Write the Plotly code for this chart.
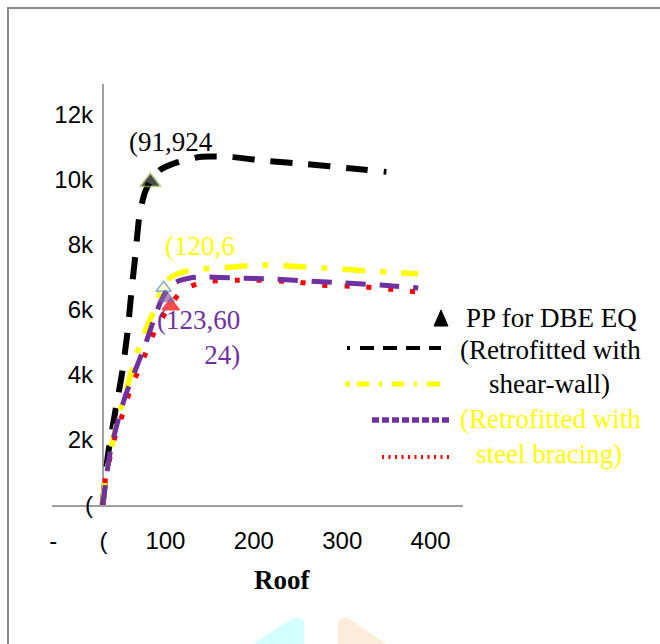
import plotly.graph_objects as go

# ---------------- data ----------------
sw_x = [29, 35, 43, 51, 57, 61, 66, 71, 77, 83, 94, 114, 139, 173, 215, 260, 305, 350]
sw_y = [0, 1540, 2830, 4060, 5290, 6400, 7690, 8990, 9630, 9970, 10310, 10550, 10710, 10710, 10585, 10490, 10370, 10250]

ye_x = [29, 32, 45, 60, 73, 85, 94, 102, 111, 124, 139, 176, 207, 243, 278, 314, 351, 386]
ye_y = [0, 770, 2520, 3940, 5080, 5850, 6520, 6920, 7080, 7200, 7260, 7320, 7385, 7350, 7290, 7230, 7170, 7110]

pu_x = [29, 37, 45, 55, 66, 77, 86, 94, 102, 112, 128, 139, 181, 222, 261, 303, 343, 386]
pu_y = [0, 1540, 2460, 3385, 4150, 4920, 5630, 6215, 6615, 6860, 6985, 7015, 6985, 6955, 6890, 6830, 6770, 6680]

rd_x = [29, 32, 42, 52, 62, 71, 80, 90, 100, 108, 120, 142, 196, 249, 275, 326, 352, 386]
rd_y = [0, 770, 2000, 2830, 3690, 4215, 4830, 5480, 5910, 6245, 6615, 6860, 6920, 6860, 6770, 6710, 6645, 6555]

pp_x = [83, 106, 101, 98]
pp_y = [9940, 6120, 6370, 6680]

x_tickvals = [-27, 30, 100, 200, 300, 400]
x_ticktext = ["-", "(", "100", "200", "300", "400"]
y_tickvals = [0, 2000, 4000, 6000, 8000, 10000, 12000]
y_ticktext = ["(", "2k", "4k", "6k", "8k", "10k", "12k"]

# ---------------- layout helpers ----------------
L, R, T, B = 52, 463, 84, 505   # plot area in pixels
def px(x):
    return (x - L) / (R - L)
def py(y):
    return (B - y) / (B - T)

SERIF = "Liberation Serif, Times New Roman, serif"
SANS = "Liberation Sans, Arial, sans-serif"
BLACK, YELLOW, PURPLE, RED = "#000000", "#ffff00", "#7030a0", "#ff0000"
AXIS = "#a0a0a0"

fig = go.Figure()
fig.add_trace(go.Scatter(x=sw_x, y=sw_y, mode="lines", line=dict(color=BLACK, width=6, dash="22px,16px", shape="spline", smoothing=0.6)))
fig.add_trace(go.Scatter(x=ye_x, y=ye_y, mode="lines", line=dict(color=YELLOW, width=5.5, dash="23px,15px,6px,15px", shape="spline", smoothing=0.6)))
fig.add_trace(go.Scatter(x=rd_x, y=rd_y, mode="lines", line=dict(color=RED, width=5, dash="5px,17px", shape="spline", smoothing=0.6)))
fig.add_trace(go.Scatter(x=pu_x, y=pu_y, mode="lines", line=dict(color=PURPLE, width=5, dash="20px,14px", shape="spline", smoothing=0.6)))
fig.add_trace(go.Scatter(
    x=pp_x, y=pp_y, mode="markers",
    marker=dict(symbol="triangle-up", size=[18, 15, 14, 13],
                color=["#000000", "#ff0000", "#8064a2", "rgba(255,255,0,0.3)"],
                line=dict(color=["#9bbb59", "#ff0000", "#8064a2", "#4f81bd"], width=1.5))))

shapes = []
# outer border
shapes.append(dict(type="rect", xref="paper", yref="paper", x0=px(8), x1=px(700), y0=py(700), y1=py(8),
                   line=dict(color="#8c8c8c", width=2), layer="below"))
# vertical value axis line
shapes.append(dict(type="line", xref="paper", yref="paper", x0=px(103), x1=px(103), y0=0, y1=1,
                   line=dict(color=AXIS, width=2), layer="below"))
# legend samples
shapes.append(dict(type="line", xref="paper", yref="paper", x0=px(347), x1=px(350), y0=py(348), y1=py(348),
                   line=dict(color=BLACK, width=4)))
shapes.append(dict(type="line", xref="paper", yref="paper", x0=px(360), x1=px(441), y0=py(348), y1=py(348),
                   line=dict(color=BLACK, width=4, dash="14px,9px")))
shapes.append(dict(type="line", xref="paper", yref="paper", x0=px(345), x1=px(443), y0=py(384), y1=py(384),
                   line=dict(color=YELLOW, width=5, dash="5px,7px,12px,10px,3px,10px,12px,10px,3px,10px,13px")))
shapes.append(dict(type="line", xref="paper", yref="paper", x0=px(372), x1=px(450), y0=py(420), y1=py(420),
                   line=dict(color=PURPLE, width=5.5, dash="7px,3px")))
shapes.append(dict(type="line", xref="paper", yref="paper", x0=px(382), x1=px(452), y0=py(457), y1=py(457),
                   line=dict(color=RED, width=4, dash="2px,4.5px")))
tri = f"M {px(434)} {py(326)} L {px(441)} {py(310)} L {px(448)} {py(326)} Z"
shapes.append(dict(type="path", xref="paper", yref="paper", path=tri, fillcolor=BLACK, line=dict(color=BLACK, width=1)))
# faint watermark fragments at the bottom
cy = f"M {px(250)} {py(646)} L {px(293)} {py(618)} L {px(300)} {py(618)} L {px(304)} {py(621)} L {px(304)} {py(646)} Z"
pe = f"M {px(338)} {py(646)} L {px(338)} {py(621)} L {px(342)} {py(618)} L {px(348)} {py(618)} L {px(389)} {py(646)} Z"
shapes.append(dict(type="path", xref="paper", yref="paper", path=cy, fillcolor="#d2ffff", line=dict(width=0), layer="below"))
shapes.append(dict(type="path", xref="paper", yref="paper", path=pe, fillcolor="#fdecd9", line=dict(width=0), layer="below"))

ann = []
def text(x, y, s, color, size=27, family=SERIF, align="center", xanchor="center"):
    ann.append(dict(xref="paper", yref="paper", x=px(x), y=py(y), text=s, showarrow=False,
                    font=dict(family=family, size=size, color=color), align=align,
                    xanchor=xanchor, yanchor="middle"))

text(171, 142, "(91,924", BLACK)
text(200, 246, "(120,6", YELLOW)
text(242, 337, "(123,60<br>24)", PURPLE, align="right", xanchor="right")
text(551, 318, "PP for DBE EQ", BLACK)
text(550, 350, "(Retrofitted with", BLACK)
text(549, 384, "shear-wall)", BLACK)
text(550, 419, "(Retrofitted with", YELLOW)
text(549, 454, "steel bracing)", YELLOW)
ann.append(dict(xref="paper", yref="paper", x=px(282), y=py(580), text="<b>Roof</b>", showarrow=False,
                font=dict(family=SERIF, size=27, color=BLACK), xanchor="center", yanchor="middle"))

fig.update_layout(
    width=660, height=644,
    margin=dict(l=L, r=660 - R, t=T, b=644 - B, pad=0),
    paper_bgcolor="white", plot_bgcolor="white",
    showlegend=False,
    shapes=shapes, annotations=ann,
    xaxis=dict(range=[(L - 77) / 0.884, (R - 77) / 0.884], showgrid=False, zeroline=False,
               showline=True, linecolor=AXIS, linewidth=2,
               tickmode="array", tickvals=x_tickvals, ticktext=x_ticktext, ticks="",
               ticklabelstandoff=13, tickfont=dict(family=SANS, size=24, color=BLACK)),
    yaxis=dict(range=[0, (B - T) / 0.0325], showgrid=False, zeroline=False,
               showline=False,
               anchor="free", position=px(103),
               tickmode="array", tickvals=y_tickvals, ticktext=y_ticktext, ticks="",
               ticklabelstandoff=10, tickfont=dict(family=SANS, size=24, color=BLACK)),
)

fig.write_html("out.html")
